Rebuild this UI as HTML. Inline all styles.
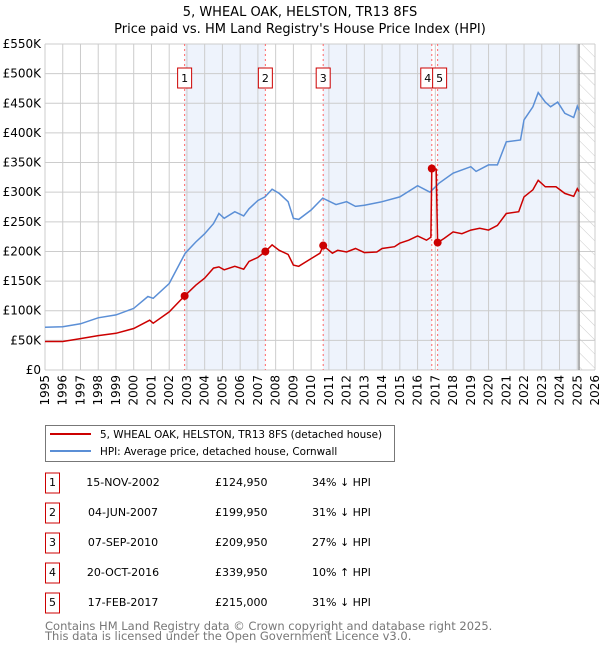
<!DOCTYPE html>
<html><head><meta charset="utf-8"><style>
body{margin:0;background:#fff;font-family:"DejaVu Sans","Liberation Sans",sans-serif;}
svg text{font-family:"DejaVu Sans","Liberation Sans",sans-serif;}
</style></head><body>
<svg id="chart" width="600" height="650" xmlns="http://www.w3.org/2000/svg">
<defs><pattern id="hatch" width="10" height="10" patternUnits="userSpaceOnUse" patternTransform="rotate(-45)"><line x1="0" y1="0" x2="0" y2="10" stroke="#ccc" stroke-width="1"/></pattern></defs>
<text x="300" y="16" text-anchor="middle" font-size="13">5, WHEAL OAK, HELSTON, TR13 8FS</text>
<text x="300" y="33" text-anchor="middle" font-size="13">Price paid vs. HM Land Registry's House Price Index (HPI)</text>
<g id="bands"></g><g id="grid"></g><g id="axes"></g><g id="vlines"></g><g id="series"></g><g id="marks"></g>
<g>
<rect x="45.5" y="425.5" width="349" height="36" fill="#fff" stroke="#777"/>
<line x1="50" y1="434" x2="91" y2="434" stroke="#cc0000" stroke-width="2"/>
<text x="100" y="438" font-size="10.4">5, WHEAL OAK, HELSTON, TR13 8FS (detached house)</text>
<line x1="50" y1="451" x2="91" y2="451" stroke="#5b8fd6" stroke-width="2"/>
<text x="100" y="455" font-size="10.4">HPI: Average price, detached house, Cornwall</text>
</g>
<g id="table"></g>
<text x="45" y="630" font-size="11.5" fill="#777">Contains HM Land Registry data © Crown copyright and database right 2025.</text>
<text x="45" y="640" font-size="11.5" fill="#777">This data is licensed under the Open Government Licence v3.0.</text>
</svg>
<script>
const hpiYears=[1995,1996,1997,1998,1999,2000,2000.8,2001.1,2002,2002.9,2003.5,2004,2004.5,2004.8,2005.1,2005.7,2006.2,2006.5,2007,2007.4,2007.8,2008.2,2008.7,2009.0,2009.3,2010,2010.65,2011.4,2012,2012.5,2013,2014,2015,2016,2016.7,2017.2,2018,2019,2019.3,2020,2020.5,2021,2021.8,2022,2022.5,2022.8,2023.2,2023.5,2023.9,2024.3,2024.8,2025.0,2025.1];
const hpiValues=[72,73,78,88,93,104,124,121,146,197,216,230,247,264,256,267,260,272,286,292,305,298,284,256,254,270,290,279,284,276,278,284,292,311,300,315,332,343,335,346,346,385,388,422,444,468,452,444,452,433,426,445,438];
const priceYears=[1995,1996,1997,1998,1999,2000,2000.9,2001.1,2002,2002.87,2003.5,2004,2004.5,2004.8,2005.1,2005.7,2006.2,2006.5,2007,2007.42,2007.8,2008.2,2008.7,2009.0,2009.3,2010,2010.5,2010.68,2011.2,2011.5,2012,2012.5,2013,2013.7,2014,2014.7,2015,2015.5,2016,2016.5,2016.75,2016.8,2017.05,2017.13,2017.5,2018,2018.5,2019,2019.5,2020,2020.5,2021,2021.7,2022,2022.5,2022.8,2023.2,2023.8,2024.3,2024.8,2025.0,2025.1];
const priceValues=[48,48,53,58,62,70,84,79,98,124.95,143,155,172,174,169,175,170,183,190,199.95,211,202,195,177,175,188,197,209.95,197,202,199,205,198,199,205,208,214,219,226,219,224,339.95,339,215,222,233,230,236,239,236,244,264,267,292,304,320,309,309,298,293,306,301];
const saleLabels=["1","2","3","4","5"];
const saleYears=[2002.87,2007.42,2010.68,2016.8,2017.13];
const saleValues=[124.95,199.95,209.95,339.95,215];
const saleDates=["15-NOV-2002","04-JUN-2007","07-SEP-2010","20-OCT-2016","17-FEB-2017"];
const salePrices=["£124,950","£199,950","£209,950","£339,950","£215,000"];
const saleHpi=["34% ↓ HPI","31% ↓ HPI","27% ↓ HPI","10% ↑ HPI","31% ↓ HPI"];
const yTicks=[0,50,100,150,200,250,300,350,400,450,500,550];
const yTickLabels=["£0","£50K","£100K","£150K","£200K","£250K","£300K","£350K","£400K","£450K","£500K","£550K"];
const xTicks=[1995,1996,1997,1998,1999,2000,2001,2002,2003,2004,2005,2006,2007,2008,2009,2010,2011,2012,2013,2014,2015,2016,2017,2018,2019,2020,2021,2022,2023,2024,2025,2026];
const dataEnd=2025.1;

const NS="http://www.w3.org/2000/svg";
const X0=45,X1=595,Y0=370,Y1=44;
const xs=y=>X0+(y-1995)/(2026-1995)*(X1-X0);
const ys=v=>Y0-v/550*(Y0-Y1);
function mk(tag,attrs,parent,text){const e=document.createElementNS(NS,tag);for(const k in attrs)e.setAttribute(k,attrs[k]);if(text!==undefined)e.textContent=text;document.getElementById(parent).appendChild(e);return e;}

const bandPairs=[[saleYears[0],saleYears[1]],[saleYears[2],saleYears[3]],[saleYears[4],dataEnd]];
bandPairs.forEach((p,i)=>{const r=mk('rect',{x:xs(p[0]),y:Y1,width:xs(p[1])-xs(p[0]),height:Y0-Y1,fill:'#eef3fc'},'bands');

});
const h=mk('rect',{x:xs(dataEnd),y:Y1,width:X1-xs(dataEnd),height:Y0-Y1,fill:'url(#hatch)'},'bands');



yTicks.forEach((t,i)=>{const l=mk('line',{x1:X0,x2:X1,y1:ys(t),y2:ys(t),stroke:'#ccc','stroke-width':1},'grid');


const tx=mk('text',{x:X0-4,y:ys(t)+4,'text-anchor':'end','font-size':12},'axes',yTickLabels[i]);

});
xTicks.forEach(t=>{const l=mk('line',{x1:xs(t),x2:xs(t),y1:Y1,y2:Y0,stroke:'#ccc','stroke-width':1},'grid');


const tx=mk('text',{x:0,y:0,'text-anchor':'end','font-size':12,transform:`translate(${xs(t)+4},${Y0+5}) rotate(-90)`},'axes',String(t));

});
const vl=mk('line',{x1:xs(dataEnd),x2:xs(dataEnd),y1:Y1,y2:Y0,stroke:'#999','stroke-width':1.5},'grid');



saleYears.forEach((y,i)=>{const l=mk('line',{x1:xs(y),x2:xs(y),y1:Y1,y2:Y0,stroke:'#ff6666','stroke-width':1,'stroke-dasharray':'2,3'},'vlines');


const off=i===3?-4:(i===4?2:0);
const r=mk('rect',{x:xs(y)+off-7,y:68,width:14,height:20,fill:'#fff',stroke:'#cc0000','stroke-width':1},'vlines');


const t=mk('text',{x:xs(y)+off,y:82,'text-anchor':'middle','font-size':11},'vlines',saleLabels[i]);

});

const hp=mk('path',{d:hpiYears.map((y,i)=>(i?'L':'M')+xs(y).toFixed(1)+','+ys(hpiValues[i]).toFixed(1)).join(''),fill:'none',stroke:'#5b8fd6','stroke-width':1.5},'series');


const pp=mk('path',{d:priceYears.map((y,i)=>(i?'L':'M')+xs(y).toFixed(1)+','+ys(priceValues[i]).toFixed(1)).join(''),fill:'none',stroke:'#cc0000','stroke-width':1.5},'series');


saleYears.forEach((y,i)=>{const c=mk('circle',{cx:xs(y),cy:ys(saleValues[i]),r:4,fill:'#cc0000'},'marks');

});

saleLabels.forEach((lab,i)=>{const cy=483+i*30;
const r=mk('rect',{x:45.5,y:cy-10,width:14,height:20,fill:'#fff',stroke:'#cc0000'},'table');


const a=mk('text',{x:52.5,y:cy+3,'text-anchor':'middle','font-size':11},'table',lab);


const d=mk('text',{x:123,y:cy+3,'text-anchor':'middle','font-size':11},'table',saleDates[i]);


const p=mk('text',{x:215,y:cy+3,'font-size':11},'table',salePrices[i]);


const q=mk('text',{x:312,y:cy+3,'font-size':11},'table',saleHpi[i]);

});
</script>
</body></html>
